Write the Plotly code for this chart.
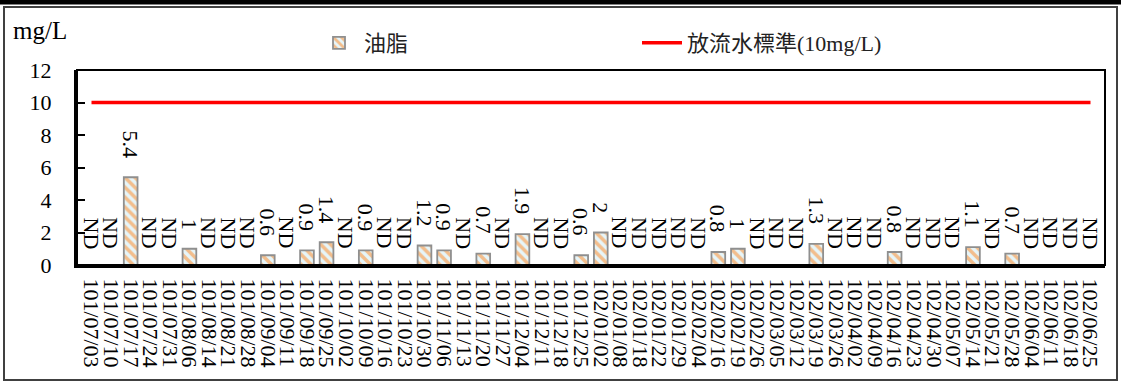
import plotly.graph_objects as go

dates = [
    "101/07/03", "101/07/10", "101/07/17", "101/07/24", "101/07/31",
    "101/08/06", "101/08/14", "101/08/21", "101/08/28",
    "101/09/04", "101/09/11", "101/09/18", "101/09/25",
    "101/10/02", "101/10/09", "101/10/16", "101/10/23", "101/10/30",
    "101/11/06", "101/11/13", "101/11/20", "101/11/27",
    "101/12/04", "101/12/11", "101/12/18", "101/12/25",
    "102/01/02", "102/01/08", "102/01/18", "102/01/22", "102/01/29",
    "102/02/04", "102/02/16", "102/02/19", "102/02/26",
    "102/03/05", "102/03/12", "102/03/19", "102/03/26",
    "102/04/02", "102/04/09", "102/04/16", "102/04/23", "102/04/30",
    "102/05/07", "102/05/14", "102/05/21", "102/05/28",
    "102/06/04", "102/06/11", "102/06/18", "102/06/25",
]

oil_labels = [
    "ND", "ND", "5.4", "ND", "ND",
    "1", "ND", "ND", "ND",
    "0.6", "ND", "0.9", "1.4",
    "ND", "0.9", "ND", "ND", "1.2",
    "0.9", "ND", "0.7", "ND",
    "1.9", "ND", "ND", "0.6",
    "2", "ND", "ND", "ND", "ND",
    "ND", "0.8", "1", "ND",
    "ND", "ND", "1.3", "ND",
    "ND", "ND", "0.8", "ND", "ND",
    "ND", "1.1", "ND", "0.7",
    "ND", "ND", "ND", "ND",
]
oil_values = [None if s == "ND" else float(s) for s in oil_labels]
standard_values = [10] * len(dates)
y_ticks = [0, 2, 4, 6, 8, 10, 12]

SERIF = "'Liberation Serif', 'Noto Sans CJK TC', serif"
FS = 22

fig = go.Figure()
fig.add_trace(go.Bar(
    x=dates, y=oil_values, name="油脂",
    marker=dict(
        color="#eaf6f9",
        line=dict(color="#8f8f8f", width=1.8),
        pattern=dict(shape="\\", fgcolor="#f2bd8c", bgcolor="#e6f5f9",
                     size=7, solidity=0.5, fillmode="replace"),
    ),
    hoverinfo="skip",
))
fig.add_trace(go.Scatter(
    x=dates, y=standard_values, name="放流水標準(10mg/L)",
    mode="lines", line=dict(color="#ff0000", width=3.5),
    hoverinfo="skip",
))

for d, v, s in zip(dates, oil_values, oil_labels):
    fig.add_annotation(
        x=d, y=(v if v is not None else 0), text=s, showarrow=False,
        textangle=90, xanchor="center", yanchor="bottom",
        yshift=(17 if v is not None else 14),
        font=dict(family=SERIF, size=FS, color="#000000"),
    )

L, R, T, B = 77, 16, 70, 120
PW, PH = 1121 - L - R, 385 - T - B


def px(x):
    return (x - L) / PW


def py(y):
    return (385 - B - y) / PH


fig.add_annotation(x=px(11), y=py(30), xref="paper", yref="paper",
                   text="mg/L", showarrow=False, xanchor="left", yanchor="middle",
                   font=dict(family=SERIF, size=25, color="#000000"))

# outer frame
fig.add_shape(type="rect", xref="paper", yref="paper",
              x0=px(4), x1=px(1117), y0=py(380), y1=py(7),
              line=dict(color="#404040", width=2), layer="below")
fig.add_shape(type="line", xref="paper", yref="paper",
              x0=px(0), x1=px(1121), y0=py(2), y1=py(2),
              line=dict(color="#000000", width=5))
# plot area box
fig.add_shape(type="rect", xref="paper", yref="paper",
              x0=0, x1=1, y0=0, y1=1,
              line=dict(color="#000000", width=2))

fig.update_layout(
    width=1121, height=385,
    margin=dict(l=L, r=R, t=T, b=B, pad=0),
    paper_bgcolor="white", plot_bgcolor="white",
    bargap=0.3,
    showlegend=True,
    legend=dict(orientation="h", x=px(314), y=py(43), xanchor="left", yanchor="middle",
                font=dict(family=SERIF, size=FS, color="#222222"),
                entrywidth=268, entrywidthmode="pixels", itemwidth=40,
                bgcolor="rgba(0,0,0,0)"),
    font=dict(family=SERIF, size=FS, color="#000000"),
    xaxis=dict(
        type="category", tickangle=90, ticks="", showgrid=False,
        tickmode="array", tickvals=dates, ticktext=dates,
        showline=True, linecolor="#000000", linewidth=3,
        tickfont=dict(family=SERIF, size=FS, color="#000000"),
        ticklabelstandoff=6, fixedrange=True,
    ),
    yaxis=dict(
        range=[0, 12], tickmode="array", tickvals=y_ticks,
        ticks="inside", ticklen=8, tickwidth=2,
        tickcolor="#000000", showgrid=False, zeroline=False,
        showline=True, linecolor="#000000", linewidth=3,
        tickfont=dict(family=SERIF, size=FS, color="#000000"),
        ticklabelstandoff=18, fixedrange=True,
    ),
)

fig.write_html(
    "out.html",
    config={"displayModeBar": False},
    post_script="document.body.style.margin='0';document.body.style.overflow='hidden';",
)
